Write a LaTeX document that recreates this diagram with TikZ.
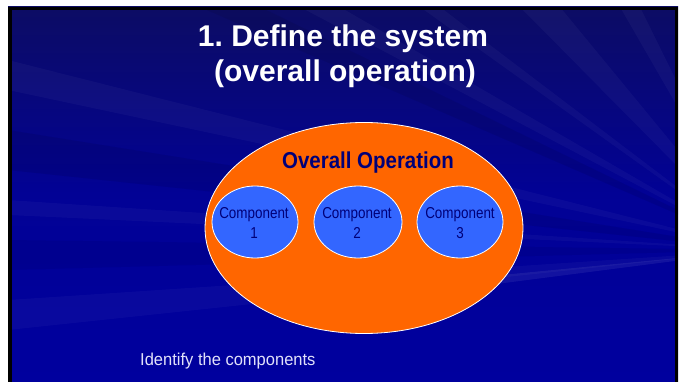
\documentclass[tikz,border=0pt]{standalone}
\usepackage{fontspec}
\setmainfont{Liberation Sans}
\usetikzlibrary{shapes.geometric}
\frenchspacing
\begin{document}
\begin{tikzpicture}[x=1pt,y=-1pt,
  comp/.style={ellipse, draw=white, line width=0.8pt, fill=compblue, minimum width=86pt, minimum height=72pt, inner sep=0pt},
  complabel/.style={anchor=base, align=center, text=navytext, font=\fontsize{15.8}{19.3}\selectfont, xscale=0.85},
  titletext/.style={anchor=base, font=\bfseries\fontsize{30}{30}\selectfont, text=white},
  streak/.style={fill=white, opacity=0.035}]
\definecolor{bgtop}{RGB}{12,12,100}
\definecolor{bgbot}{RGB}{0,0,158}
\definecolor{orangefill}{RGB}{255,102,0}
\definecolor{compblue}{RGB}{51,102,255}
\definecolor{navytext}{RGB}{0,0,120}
\definecolor{lavender}{RGB}{225,225,250}
\useasboundingbox (0,0) rectangle (683,382);
\fill[white] (0,0) rectangle (683,382);
% slide background
\shade[top color=bgtop, bottom color=bgbot, middle color=bgbot!85!bgtop] (8,7) rectangle (678,382);
% streaks
\begin{scope}
\clip (8,7) rectangle (678,382);
\fill[streak] (760,250) -- (300,7) -- (340,7) -- cycle;
\fill[streak] (760,250) -- (420,7) -- (440,7) -- cycle;
\fill[streak] (760,250) -- (520,7) -- (560,7) -- cycle;
\fill[streak] (760,250) -- (620,7) -- (640,7) -- cycle;
\fill[streak] (760,250) -- (8,60) -- (8,90) -- cycle;
\fill[streak] (760,250) -- (8,200) -- (8,215) -- cycle;
\fill[streak] (760,250) -- (8,300) -- (8,330) -- cycle;
\fill[white, opacity=0.07] (760,250) -- (450,280) -- (450,290) -- cycle;
\fill[black, opacity=0.08] (760,250) -- (8,130) -- (8,170) -- cycle;
\fill[black, opacity=0.08] (760,250) -- (200,7) -- (260,7) -- cycle;
\fill[black, opacity=0.06] (760,250) -- (8,240) -- (8,270) -- cycle;
\end{scope}
% frame
\draw[black, line width=3.5pt] (9.75,8.75) rectangle (676.25,384);
% title
\node[titletext] (t1) at (343,46.5) {1. Define the system};
\node[titletext] (t2) at (345,82) {(overall operation)};
% big ellipse
\node[ellipse, draw=white, line width=0.8pt, fill=orangefill, minimum width=318pt, minimum height=211pt, inner sep=0pt] (sys) at (364,228) {};
\node[font=\bfseries\fontsize{23}{23}\selectfont, text=navytext, xscale=0.89] (ov) at (368,163) {Overall Operation};
% components
\node[comp] (c1) at (255,222) {};
\node[comp, minimum width=88pt] (c2) at (358,222) {};
\node[comp] (c3) at (460,222) {};
\node[complabel] (l1) at (254,238.3) {Component\\1};
\node[complabel] (l2) at (357,238.3) {Component\\2};
\node[complabel] (l3) at (460,238.3) {Component\\3};
% bottom text
\node[anchor=base west, inner sep=0pt, text=lavender, font=\fontsize{17.2}{17.2}\selectfont, xscale=0.96] (bt) at (140,365) {Identify the components};
\end{tikzpicture}
\end{document}
